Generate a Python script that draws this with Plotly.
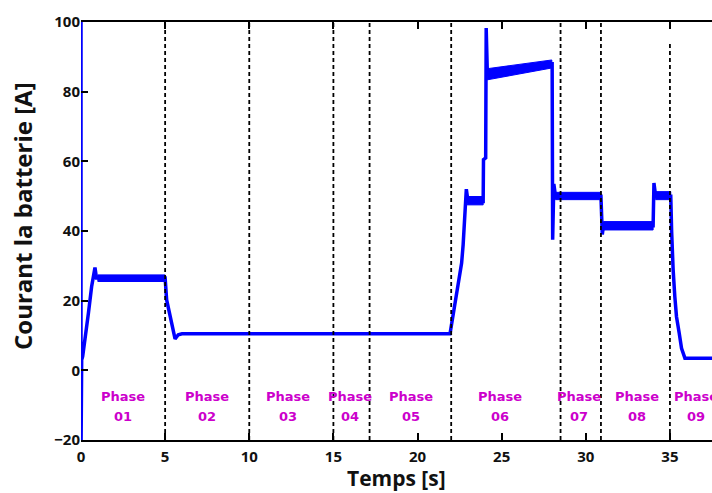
import plotly.graph_objects as go

# Battery current trace: time [s] and current [A]
time_s = [0.0, 0.0, 0.02, 0.04, 0.10, 0.24, 0.44, 0.63, 0.83, 0.92, 5.00, 5.09, 5.29,
          5.48, 5.59, 5.78, 6.00, 21.93, 22.22, 22.42, 22.62, 22.71, 22.82, 22.90,
          23.00, 23.90, 23.92, 24.05, 24.08, 24.15, 27.95, 28.00, 28.03, 28.10,
          28.20, 30.90, 30.98, 31.05, 34.00, 34.05, 34.15, 35.05, 35.10, 35.12,
          35.19, 35.29, 35.39, 35.55, 35.69, 35.89, 37.50]
current_a = [110, -25, 30.5, 3.0, 4.0, 8.7, 16.4, 24.0, 29.5, 26.5, 26.5, 20.2, 15.4,
             11.1, 9.0, 10.2, 10.5, 10.5, 19.3, 25.0, 30.8, 36.0, 44.0, 52.0,
             48.5, 48.5, 60.5, 61.0, 98.3, 85.0, 88.0, 88.0, 37.5, 53.5,
             50.0, 50.0, 39.0, 41.5, 41.5, 53.8, 50.0, 50.0, 40.0, 34.6,
             28.9, 21.2, 15.4, 10.7, 6.3, 3.5, 3.5]

# Ripple envelopes on the steady segments: start/end time, low/high at start and end
band_t0 = [1.0, 22.95, 24.15, 28.20, 31.05, 34.15]
band_t1 = [5.0, 23.90, 27.98, 30.90, 34.00, 35.05]
band_lo0 = [25.5, 47.5, 83.4, 49.0, 40.3, 49.0]
band_hi0 = [27.4, 49.9, 86.6, 51.1, 42.7, 51.3]
band_lo1 = [25.5, 47.5, 86.8, 49.0, 40.3, 49.0]
band_hi1 = [27.4, 49.9, 89.1, 51.1, 42.7, 51.3]

# Phase boundaries (dashed markers) and their upper ends
phase_bounds = [5.0, 10.0, 15.0, 17.15, 22.0, 28.5, 30.9, 35.0]
phase_bound_top = [100, 100, 100, 100, 100, 100, 100, 94]

# Phase labels
phase_names = ["01", "02", "03", "04", "05", "06", "07", "08", "09"]
phase_x = [2.5, 7.47, 12.3, 16.0, 19.63, 24.88, 29.62, 33.06, 36.55]

x_ticks = [0, 5, 10, 15, 20, 25, 30, 35]
y_ticks = [-20, 0, 20, 40, 60, 80, 100]

BLUE = "#0000FF"
MAGENTA = "#CC00CC"

fig = go.Figure()

for t0, t1, l0, h0, l1, h1 in zip(band_t0, band_t1, band_lo0, band_hi0, band_lo1, band_hi1):
    fig.add_trace(go.Scatter(
        x=[t0, t1, t1, t0, t0], y=[h0, h1, l1, l0, h0],
        mode="lines", fill="toself", fillcolor=BLUE,
        line=dict(color=BLUE, width=1), hoverinfo="skip", showlegend=False))

fig.add_trace(go.Scatter(
    x=time_s, y=current_a, mode="lines",
    line=dict(color=BLUE, width=3.5), showlegend=False))

for xb, yt in zip(phase_bounds, phase_bound_top):
    fig.add_shape(type="line", x0=xb, x1=xb, y0=-20, y1=yt, xref="x", yref="y",
                  line=dict(color="black", width=1.8, dash="4px,3px"), layer="above")

label_font = dict(family="DejaVu Sans", size=13, color=MAGENTA, weight="bold")
for name, xp in zip(phase_names, phase_x):
    fig.add_annotation(x=xp, y=-7.5, text="Phase", showarrow=False,
                       xanchor="center", yanchor="middle", font=label_font)
    fig.add_annotation(x=xp, y=-13.3, text=name, showarrow=False,
                       xanchor="center", yanchor="middle", font=label_font)

fig.add_annotation(xref="paper", yref="paper", x=0, y=0.5, xshift=-59, yshift=15,
                   text="Courant la batterie [A]", textangle=-90, showarrow=False,
                   xanchor="center", yanchor="middle",
                   font=dict(family="Open Sans", size=24, color="#111111", weight="bold"))
fig.add_annotation(xref="paper", yref="paper", x=0.5, y=0, yshift=-38,
                   text="Temps [s]", showarrow=False,
                   xanchor="center", yanchor="middle",
                   font=dict(family="Open Sans", size=21, color="#111111", weight="bold"))

tick_font = dict(family="Open Sans", size=15, color="#111111", weight="bold")
fig.update_layout(
    width=712, height=493,
    margin=dict(l=81, r=0, t=22, b=53),
    paper_bgcolor="white", plot_bgcolor="white",
    xaxis=dict(range=[0, 37.5], tickvals=x_ticks, ticks="inside", ticklen=7,
               tickwidth=1.5, tickcolor="black", showline=True, linecolor="black",
               linewidth=1.8, mirror="ticks", showgrid=False, zeroline=False,
               tickfont=tick_font, ticklabelstandoff=2),
    yaxis=dict(range=[-20, 100], tickvals=y_ticks, ticks="inside", ticklen=7,
               tickwidth=1.5, tickcolor="black", showline=False, showgrid=False,
               zeroline=False, tickfont=tick_font),
)

fig.write_html("out.html")
